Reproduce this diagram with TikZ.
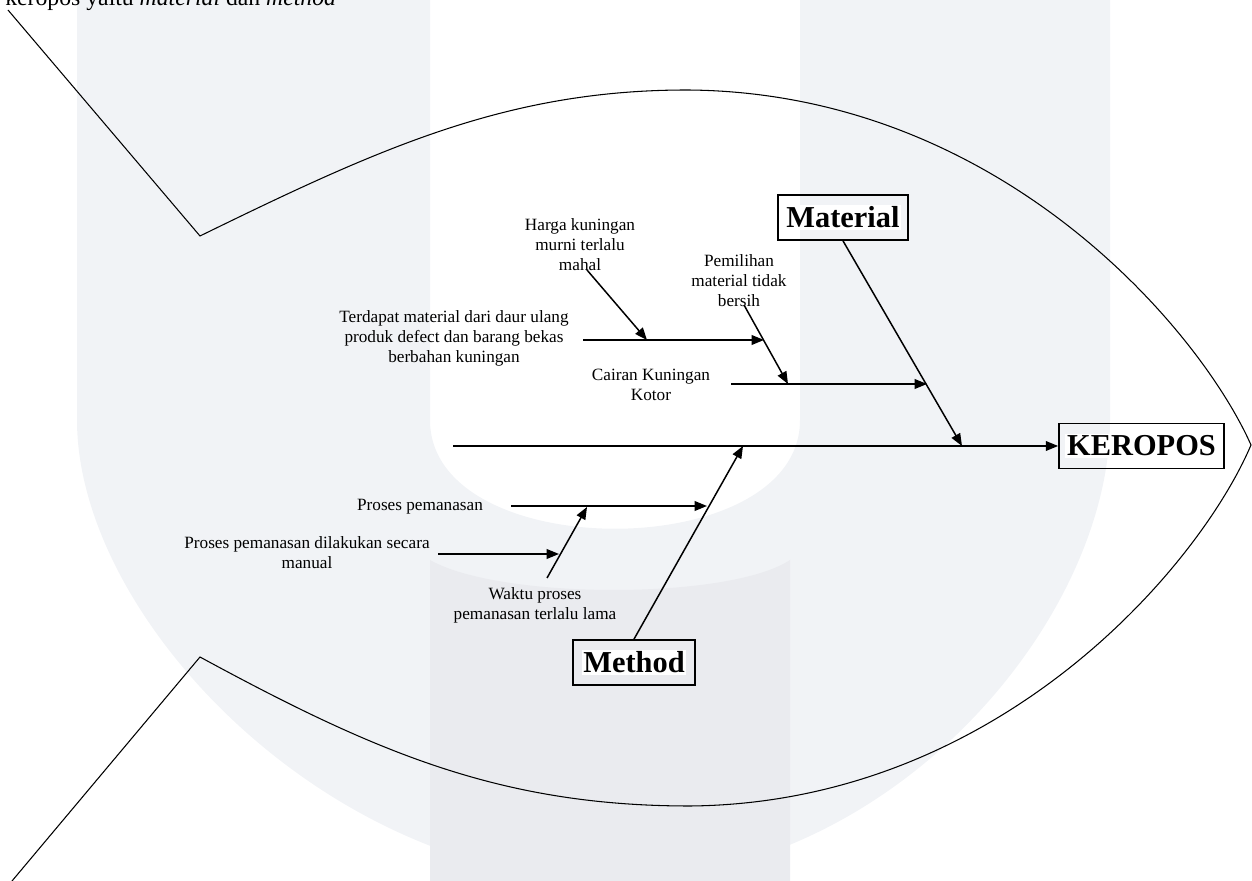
\documentclass[tikz,border=0pt]{standalone}
\usepackage{fontspec}
\setmainfont{Liberation Serif}
\usetikzlibrary{arrows.meta}
\definecolor{wm}{RGB}{241,243,246}
\definecolor{wmd}{RGB}{234,235,239}
\setlength{\fboxsep}{1pt}
\begin{document}
\begin{tikzpicture}[x=0.02cm,y=-0.02cm,
  bone/.style={line width=0.85pt,-{Triangle[length=7pt,width=5.5pt]}},
  fish/.style={line width=0.6pt},
  cause/.style={align=center,font=\fontsize{9.8}{11.4}\selectfont,inner sep=0pt},
  catbox/.style={draw,line width=1pt,font=\bfseries\fontsize{17.3}{20}\selectfont,inner sep=0pt,minimum height=0.9cm}]
\useasboundingbox (0,0) rectangle (1252,881);
% faint watermark
\fill[wm,even odd rule] (77,0) -- (77,420) .. controls (77,620) and (330,881) .. (611,881)
   .. controls (892,881) and (1110,620) .. (1110,420) -- (1110,0) -- cycle
   (430,0) -- (430,420) .. controls (430,565) and (800,565) .. (800,420) -- (800,0) -- cycle;
\fill[wmd] (430,881) -- (430,560) .. controls (500,600) and (730,600) .. (790,560) -- (790,881) -- cycle;
% header text (cut by the page edge, as in the source)
\node[anchor=base west,font=\fontsize{13.5}{16}\selectfont,inner sep=0pt] (hdr) at (5,6) {keropos yaitu \textit{material} dan \textit{method}};
% fish outline
\draw[fish] (8,10) -- (200,236)
  .. controls (380,148) and (507,90) .. (687,90)
  .. controls (1000,92) and (1200,330) .. (1251,445)
  .. controls (1200,565) and (1000,803) .. (690,806)
  .. controls (500,806) and (375,752) .. (200,657)
  -- (12,881);
% category boxes
\node[catbox,minimum width=2.6cm] (mat) at (843,217.5) {\colorbox{white}{Material}};
\node[catbox,minimum width=3.3cm] (ker) at (1141.5,446) {\colorbox{white}{KEROPOS}};
\node[catbox,minimum width=2.44cm] (met) at (634,662.5) {\colorbox{white}{Method}};
% spine and main bones
\coordinate (tail) at (453,446);
\coordinate (jm) at (962,446);
\coordinate (jt) at (743,446);
\draw[bone] (tail) -- (ker.west);
\draw[bone] (mat.south) -- (jm);
\draw[bone] (met.north) -- (jt);
% cause texts
\node[cause] (harga) at (580,245) {Harga kuningan\\murni terlalu\\mahal};
\node[cause] (terdapat) at (454,338) {Terdapat material dari daur ulang\\produk defect dan barang bekas\\berbahan kuningan};
\node[cause] (pemilihan) at (739,281) {Pemilihan\\material tidak\\bersih};
\node[cause] (cairan) at (651,385) {Cairan Kuningan\\Kotor};
\node[cause] (proses) at (420,507) {Proses pemanasan};
\node[cause] (manual) at (307,553) {Proses pemanasan dilakukan secara\\manual};
\node[cause] (waktu) at (535,605) {Waktu proses\\pemanasan terlalu lama};
% material sub-bones
\coordinate (t1s) at (583,340);
\coordinate (t1e) at (764,340);
\coordinate (h1s) at (587,270);
\coordinate (h1e) at (647,340);
\coordinate (p1s) at (744,305);
\coordinate (p1e) at (788,384);
\coordinate (c1s) at (731,384);
\coordinate (c1e) at (927,384);
\draw[bone] (t1s) -- (t1e);
\draw[bone] (h1s) -- (h1e);
\draw[bone] (p1s) -- (p1e);
\draw[bone] (c1s) -- (c1e);
% method sub-bones
\coordinate (r1s) at (511,506);
\coordinate (r1e) at (707,506);
\coordinate (m1s) at (438,554);
\coordinate (m1e) at (559,554);
\coordinate (w1s) at (547,578);
\coordinate (w1e) at (587,507);
\draw[bone] (r1s) -- (r1e);
\draw[bone] (m1s) -- (m1e);
\draw[bone] (w1s) -- (w1e);
\end{tikzpicture}
\end{document}
